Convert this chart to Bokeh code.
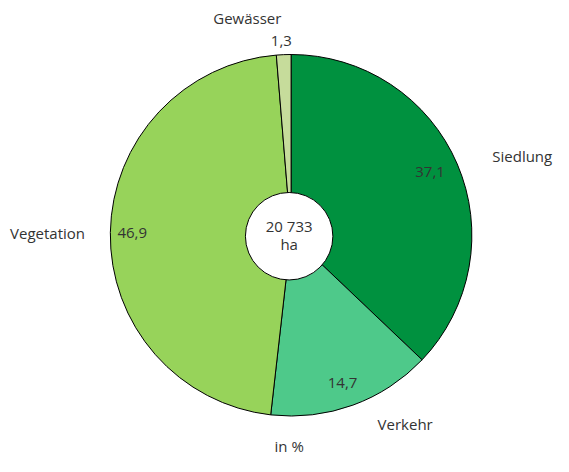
import math
from bokeh.plotting import figure
from bokeh.models import Range1d, ColumnDataSource
from bokeh.core.properties import value
from bokeh.embed import file_html
from bokeh.resources import INLINE

categories = ["Siedlung", "Verkehr", "Vegetation", "Gewässer"]
shares = [37.1, 14.7, 46.9, 1.3]
share_labels = ["37,1", "14,7", "46,9", "1,3"]
colors = ["#00913f", "#4ec98a", "#97d35a", "#c6dc9b"]
total_text = ["20 733", "ha"]
unit_text = "in %"

W, H = 553, 456
RW, RH = 569, 472
S = W / RW
def X(px): return px * W / RW
def Y(py): return H - (py - 5) * H / RH   # py: reference baseline; centred text

p = figure(width=W, height=H, output_backend="svg", toolbar_location=None,
           x_range=Range1d(0, W), y_range=Range1d(0, H), min_border=0)
p.axis.visible = False
p.grid.visible = False
p.outline_line_color = None

def YP(py): return H - py * H / RH

cx, cy, r = X(299), YP(243), 186 * S
starts, ends = [], []
cum = 0.0
for s in shares:
    starts.append(math.pi / 2 - cum / 100 * 2 * math.pi)
    cum += s
    ends.append(math.pi / 2 - cum / 100 * 2 * math.pi)
src = ColumnDataSource(dict(start=starts, end=ends, color=colors))
p.wedge(x=cx, y=cy, radius=r, start_angle="start", end_angle="end", direction="clock",
        fill_color="color", line_color="black", line_width=1, source=src)
p.scatter(x=[X(297)], y=[YP(244)], size=90 * S, marker="circle", fill_color="white",
          line_color="black", line_width=1)

font = value("Open Sans")
col = "#333333"
fs = "15px"
# center
p.text(x=[X(297), X(297)], y=[Y(238), Y(257)], text=total_text, text_font=font, text_font_size=fs,
       text_color=col, text_align="center", text_baseline="middle")
# category labels
cat_x = [X(506), X(388), X(87), X(254)]
cat_y = [Y(166), Y(443), Y(246), Y(23)]
cat_align = ["left", "left", "right", "center"]
p.text(x=cat_x, y=cat_y, text=categories, text_font=font, text_font_size=fs, text_color=col,
       text_align=cat_align, text_baseline="middle")
# value labels
val_x = [X(442), X(352), X(135.5), X(289)]
val_y = [Y(183), Y(401), Y(246), Y(47)]
p.text(x=val_x, y=val_y, text=share_labels, text_font=font, text_font_size=fs, text_color=col,
       text_align="center", text_baseline="middle")
p.text(x=[X(297)], y=[Y(466)], text=[unit_text], text_font=font, text_font_size=fs, text_color=col,
       text_align="center", text_baseline="middle")

open("out.html", "w").write(file_html(p, INLINE))
